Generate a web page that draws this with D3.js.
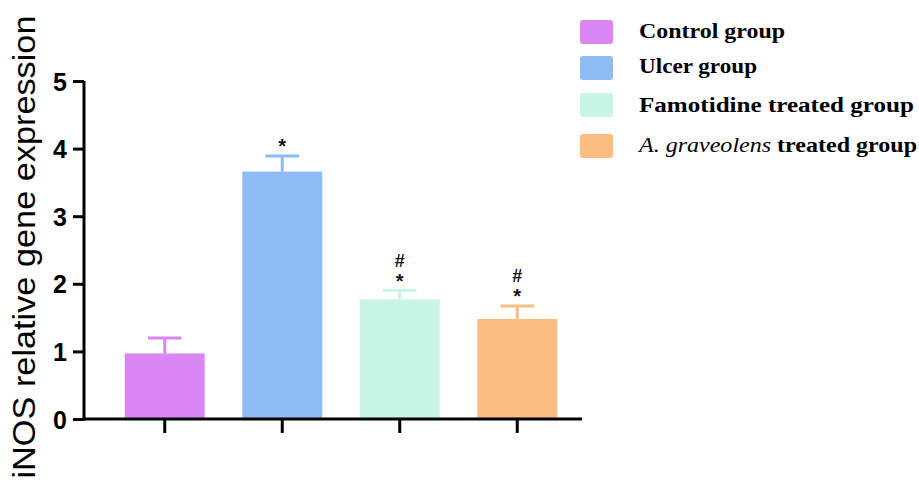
<!DOCTYPE html>
<html>
<head>
<meta charset="utf-8">
<script src="https://cdn.jsdelivr.net/npm/d3@7"></script>
<style>
  html, body { margin: 0; padding: 0; background: #fff; }
  svg { display: block; }
</style>
</head>
<body>
<svg id="chart" width="919" height="483"></svg>
<script>
// iNOS relative gene expression per treatment group (mean ± SEM)
const groups = ["Control group", "Ulcer group", "Famotidine treated group", "A. graveolens treated group"];
const means = [0.97, 3.66, 1.77, 1.48];
const errors = [0.23, 0.23, 0.13, 0.19];
const marks = [[], ["*"], ["*", "#"], ["*", "#"]];
const colors = ["#DA86F2", "#8EBBF4", "#C8F5E5", "#FBBE80"];
const yTicks = [0, 1, 2, 3, 4, 5];

const svg = d3.select("#chart");

const y = d3.scaleLinear().domain([0, 5]).range([419, 81]);
const x = d3.scaleBand().domain(groups).range([106, 576])
  .paddingInner(0.32).paddingOuter(0.16);

// bars
svg.append("g").selectAll("rect").data(groups).join("rect")
  .attr("x", d => x(d))
  .attr("width", x.bandwidth())
  .attr("y", (d, i) => y(means[i]))
  .attr("height", (d, i) => y(0) - y(means[i]))
  .attr("fill", (d, i) => colors[i]);

// error bars (upper whisker only)
const capW = x.bandwidth() * 0.42;
const err = svg.append("g").attr("stroke-width", 3);
groups.forEach((g, i) => {
  const cx = x(g) + x.bandwidth() / 2;
  err.append("line")
    .attr("x1", cx).attr("x2", cx)
    .attr("y1", y(means[i])).attr("y2", y(means[i] + errors[i]))
    .attr("stroke", colors[i]);
  err.append("line")
    .attr("x1", cx - capW / 2).attr("x2", cx + capW / 2)
    .attr("y1", y(means[i] + errors[i])).attr("y2", y(means[i] + errors[i]))
    .attr("stroke", colors[i]);
});

// significance marks stacked above each error bar
groups.forEach((g, i) => {
  const cx = x(g) + x.bandwidth() / 2;
  marks[i].forEach((m, k) => {
    svg.append("text")
      .attr("x", cx)
      .attr("y", y(means[i] + errors[i]) - 3 - k * 21)
      .attr("text-anchor", "middle")
      .attr("font-family", "Liberation Sans, Arial, sans-serif")
      .attr("font-size", m === "*" ? 20 : 18)
      .attr("font-weight", "bold")
      .attr("fill", "#111")
      .text(m);
  });
});

// y axis
const yAxis = svg.append("g")
  .attr("transform", "translate(84,0)")
  .call(d3.axisLeft(y).tickValues(yTicks).tickFormat(d3.format("d")).tickSize(11).tickPadding(6));
yAxis.select(".domain").attr("stroke", "#000").attr("stroke-width", 3)
  .attr("d", `M0,${y(5)}V${y(0) + 1.5}`);
yAxis.selectAll(".tick line").attr("stroke", "#000").attr("stroke-width", 3);
yAxis.selectAll(".tick text")
  .attr("font-family", "Liberation Sans Narrow, Liberation Sans, Arial, sans-serif")
  .attr("font-weight", "bold")
  .attr("font-size", 25)
  .attr("fill", "#000")
  .attr("dy", "0.36em");

// x axis
const xAxis = svg.append("g")
  .attr("transform", `translate(0,${y(0)})`)
  .call(d3.axisBottom(x).tickSize(14).tickFormat(""));
xAxis.select(".domain").attr("stroke", "#000").attr("stroke-width", 3)
  .attr("d", "M82.5,0H582");
xAxis.selectAll(".tick line").attr("stroke", "#000").attr("stroke-width", 3);

// y axis title
svg.append("text")
  .attr("transform", "translate(35,247) rotate(-90)")
  .attr("text-anchor", "middle")
  .attr("font-family", "Liberation Sans, Arial, sans-serif")
  .attr("font-size", 31)
  .attr("fill", "#000")
  .attr("textLength", 463)
  .attr("lengthAdjust", "spacingAndGlyphs")
  .text("iNOS relative gene expression");

// legend
const legendY = [20, 56, 93, 134];
const legendBase = [38, 73, 112, 152];
const legendLen = [146, 118, 275, 278];
const legend = svg.append("g");
groups.forEach((g, i) => {
  legend.append("rect")
    .attr("x", 580).attr("y", legendY[i])
    .attr("width", 33).attr("height", 24)
    .attr("rx", 3)
    .attr("fill", colors[i]);
  const t = legend.append("text")
    .attr("x", 639).attr("y", legendBase[i])
    .attr("font-family", "Liberation Serif, Times New Roman, serif")
    .attr("font-size", 20)
    .attr("fill", "#000")
    .attr("textLength", legendLen[i])
    .attr("lengthAdjust", "spacingAndGlyphs");
  if (g.startsWith("A. graveolens")) {
    t.append("tspan").attr("font-style", "italic").text("A. graveolens");
    t.append("tspan").attr("font-weight", "bold").text(" treated group");
  } else {
    t.attr("font-weight", "bold").text(g);
  }
});
</script>
</body>
</html>
